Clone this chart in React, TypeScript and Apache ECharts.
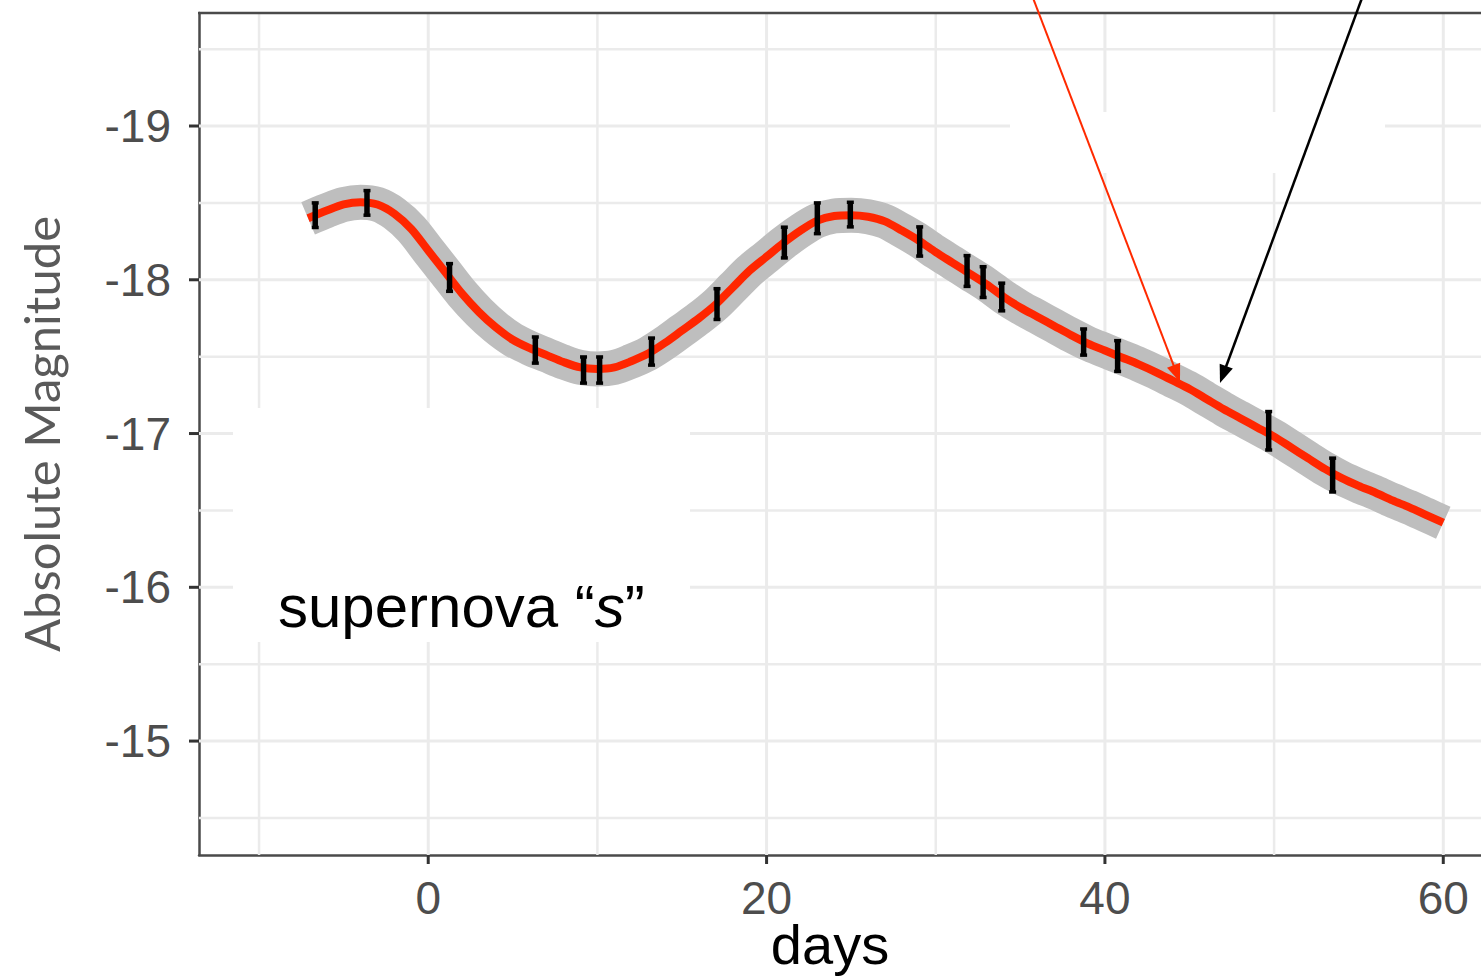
import { useEffect, useRef } from "react";
import * as echarts from "echarts";

// Axis ranges and tick positions
const dayMin = -13.55;
const dayMax = 62.23;
const magMin = -19.735;
const magMax = -14.259;
const dayTicks = [0, 20, 40, 60];
const dayMinorTicks = [-10, 10, 30, 50];
const magTicks = [-19, -18, -17, -16, -15];
const magMinorTicks = [-19.5, -18.5, -17.5, -16.5, -15.5, -14.5];

// Observed photometry: epoch (days), absolute magnitude, 1-sigma error
const obsDays = [-6.68, -3.62, 1.26, 6.33, 9.18, 10.13, 13.2, 17.07, 21.05, 23.0, 24.95, 29.05, 31.85, 32.8, 33.9, 38.74, 40.75, 49.68, 53.46];
const obsMag = [-18.42, -18.5, -18.015, -17.543, -17.413, -17.413, -17.533, -17.842, -18.242, -18.4, -18.424, -18.249, -18.057, -17.985, -17.888, -17.595, -17.504, -17.018, -16.73];
const obsErr = [0.08, 0.08, 0.09, 0.085, 0.085, 0.085, 0.088, 0.1, 0.1, 0.1, 0.08, 0.095, 0.1, 0.1, 0.09, 0.085, 0.1, 0.125, 0.11];

// Fitted light curve, sampled once per day
const fitDays = [-7.1, -6, -5, -4, -3, -2, -1, 0, 1, 2, 3, 4, 5, 6, 7, 8, 9, 10, 11, 12, 13, 14, 15, 16, 17, 18, 19, 20, 21, 22, 23, 24, 25, 26, 27, 28, 29, 30, 31, 32, 33, 34, 35, 36, 37, 38, 39, 40, 41, 42, 43, 44, 45, 46, 47, 48, 49, 50, 51, 52, 53, 54, 55, 56, 57, 58, 59, 60];
const fitMag = [
  -18.4, -18.45, -18.49, -18.505, -18.49, -18.43, -18.33, -18.19, -18.05, -17.91,
  -17.79, -17.69, -17.61, -17.555, -17.51, -17.465, -17.43, -17.42, -17.43, -17.47,
  -17.52, -17.59, -17.67, -17.75, -17.84, -17.95, -18.06, -18.15, -18.24, -18.32,
  -18.385, -18.415, -18.42, -18.41, -18.38, -18.32, -18.255, -18.18, -18.11, -18.04,
  -17.97, -17.89, -17.82, -17.76, -17.7, -17.64, -17.585, -17.54, -17.495, -17.45,
  -17.4, -17.345, -17.29, -17.225, -17.16, -17.1, -17.04, -16.98, -16.91, -16.84,
  -16.77, -16.71, -16.66, -16.615, -16.565, -16.52, -16.47, -16.42,
];

const tickFont = "'Liberation Sans', Arial, sans-serif";
const frameColor = "#4a4a4a";

type Pt = [number, number];

// Straight arrow with a filled triangular head at the "to" end
function arrow(from: Pt, to: Pt, color: string, width: number, z: number) {
  const dx = to[0] - from[0];
  const dy = to[1] - from[1];
  const len = Math.hypot(dx, dy);
  const ux = dx / len;
  const uy = dy / len;
  const headLen = 18;
  const headHalf = 7;
  const bx = to[0] - ux * headLen;
  const by = to[1] - uy * headLen;
  return [
    {
      type: "line",
      z,
      silent: true,
      shape: { x1: from[0], y1: from[1], x2: bx + ux * 2, y2: by + uy * 2 },
      style: { stroke: color, lineWidth: width },
    },
    {
      type: "polygon",
      z,
      silent: true,
      shape: {
        points: [
          [to[0], to[1]],
          [bx - uy * headHalf, by + ux * headHalf],
          [bx + uy * headHalf, by - ux * headHalf],
        ],
      },
      style: { fill: color },
    },
  ];
}

export default function App() {
  const ref = useRef<HTMLDivElement>(null);

  useEffect(() => {
    if (!ref.current) return;
    const chart = echarts.init(ref.current, undefined, { renderer: "svg" });

    const gridData: number[][] = [
      ...dayTicks.map((v) => [v, 0, 1]),
      ...dayMinorTicks.map((v) => [v, 0, 0]),
      ...magTicks.map((v) => [v, 1, 1]),
      ...magMinorTicks.map((v) => [v, 1, 0]),
    ];

    const fit = fitDays.map((d, i) => [d, fitMag[i]]);
    const obs = obsDays.map((d, i) => [d, obsMag[i], obsErr[i]]);

    chart.setOption({
      animation: false,
      backgroundColor: "#ffffff",
      grid: {
        left: 199,
        top: 13,
        right: 0,
        height: 842,
        show: false,
      },
      xAxis: {
        type: "value",
        min: dayMin,
        max: dayMax,
        axisLine: { show: true, onZero: false, lineStyle: { color: frameColor, width: 2.5 } },
        splitLine: { show: false },
        axisTick: { show: false },
        axisLabel: {
          customValues: dayTicks,
          fontSize: 46,
          color: "#4d4d4d",
          fontFamily: tickFont,
          margin: 20,
        },
      },
      yAxis: {
        type: "value",
        inverse: true,
        min: magMin,
        max: magMax,
        axisLine: { show: true, onZero: false, lineStyle: { color: frameColor, width: 2.5 } },
        splitLine: { show: false },
        axisTick: { show: false },
        axisLabel: {
          customValues: magTicks,
          fontSize: 46,
          color: "#4d4d4d",
          fontFamily: tickFont,
          margin: 28,
        },
        name: "Absolute Magnitude",
        nameLocation: "middle",
        nameRotate: 90,
        nameGap: 134,
        nameTextStyle: {
          fontFamily: "Lato, 'Open Sans', sans-serif",
          fontSize: 49,
          color: "#5a5a5a",
        },
      },
      graphic: [
        // top edge of the panel frame
        {
          type: "line",
          z: 6,
          silent: true,
          shape: { x1: 198, y1: 13, x2: 1481, y2: 13 },
          style: { stroke: frameColor, lineWidth: 2.5 },
        },
        // blanked-out areas of the panel
        {
          type: "rect",
          z: 2,
          silent: true,
          shape: { x: 233, y: 408, width: 457, height: 234 },
          style: { fill: "#ffffff" },
        },
        {
          type: "rect",
          z: 2,
          silent: true,
          shape: { x: 1010, y: 112, width: 375, height: 61 },
          style: { fill: "#ffffff" },
        },
        {
          type: "text",
          z: 20,
          silent: true,
          x: 278,
          y: 606,
          style: {
            text: "supernova \u201C{i|s}\u201D",
            font: `60px ${tickFont}`,
            fill: "#000000",
            verticalAlign: "middle",
            rich: {
              i: { fontStyle: "italic", fontSize: 60, fontFamily: tickFont, fill: "#000000" },
            },
          },
        },
        {
          type: "text",
          z: 20,
          silent: true,
          x: 830,
          y: 944,
          style: {
            text: "days",
            font: `56px ${tickFont}`,
            fill: "#000000",
            align: "center",
            verticalAlign: "middle",
          },
        },
        ...arrow([1033, -2], [1180, 382], "#ff2a00", 2, 30),
        ...arrow([1362, -2], [1220, 383], "#000000", 2.5, 30),
      ],
      series: [
        {
          // panel grid lines and outward axis ticks
          type: "custom",
          z: 1,
          silent: true,
          data: gridData,
          renderItem: (params: any, api: any) => {
            const cs = params.coordSys;
            const v = api.value(0);
            const vertical = api.value(1) === 0;
            const major = api.value(2) === 1;
            const style = { stroke: "#ebebeb", lineWidth: major ? 3 : 2.5 };
            const tickStyle = { stroke: "#333333", lineWidth: 3 };
            const children: any[] = [];
            if (vertical) {
              const x = api.coord([v, -17])[0];
              const bottom = cs.y + cs.height;
              children.push({ type: "line", shape: { x1: x, y1: cs.y, x2: x, y2: bottom }, style });
              if (major) {
                children.push({ type: "line", z2: 50, shape: { x1: x, y1: bottom, x2: x, y2: bottom + 9 }, style: tickStyle });
              }
            } else {
              const y = api.coord([0, v])[1];
              children.push({ type: "line", shape: { x1: cs.x, y1: y, x2: cs.x + cs.width, y2: y }, style });
              if (major) {
                children.push({ type: "line", z2: 50, shape: { x1: cs.x - 10, y1: y, x2: cs.x, y2: y }, style: tickStyle });
              }
            }
            return { type: "group", children };
          },
        },
        {
          // uncertainty band of the fit
          type: "line",
          z: 3,
          silent: true,
          data: fit,
          smooth: 0.3,
          showSymbol: false,
          lineStyle: { color: "#bebebe", width: 35, cap: "butt", join: "round" },
        },
        {
          type: "line",
          z: 4,
          silent: true,
          data: fit,
          smooth: 0.3,
          showSymbol: false,
          lineStyle: { color: "#ff2600", width: 8, cap: "butt", join: "round" },
        },
        {
          // observations with error bars
          type: "custom",
          z: 5,
          silent: true,
          data: obs,
          renderItem: (_params: any, api: any) => {
            const d = api.value(0);
            const m = api.value(1);
            const e = api.value(2);
            const top = api.coord([d, m - e]);
            const bot = api.coord([d, m + e]);
            const cap = 3.5;
            return {
              type: "group",
              children: [
                { type: "line", shape: { x1: top[0], y1: top[1], x2: bot[0], y2: bot[1] }, style: { stroke: "#000", lineWidth: 5.5 } },
                { type: "line", shape: { x1: top[0] - cap, y1: top[1], x2: top[0] + cap, y2: top[1] }, style: { stroke: "#000", lineWidth: 3.5 } },
                { type: "line", shape: { x1: bot[0] - cap, y1: bot[1], x2: bot[0] + cap, y2: bot[1] }, style: { stroke: "#000", lineWidth: 3.5 } },
              ],
            };
          },
        },
      ],
    });

    return () => chart.dispose();
  }, []);

  return (
    <div
      ref={ref}
      style={{ position: "fixed", left: 0, top: 0, width: 1481, height: 977, background: "#fff" }}
    />
  );
}
